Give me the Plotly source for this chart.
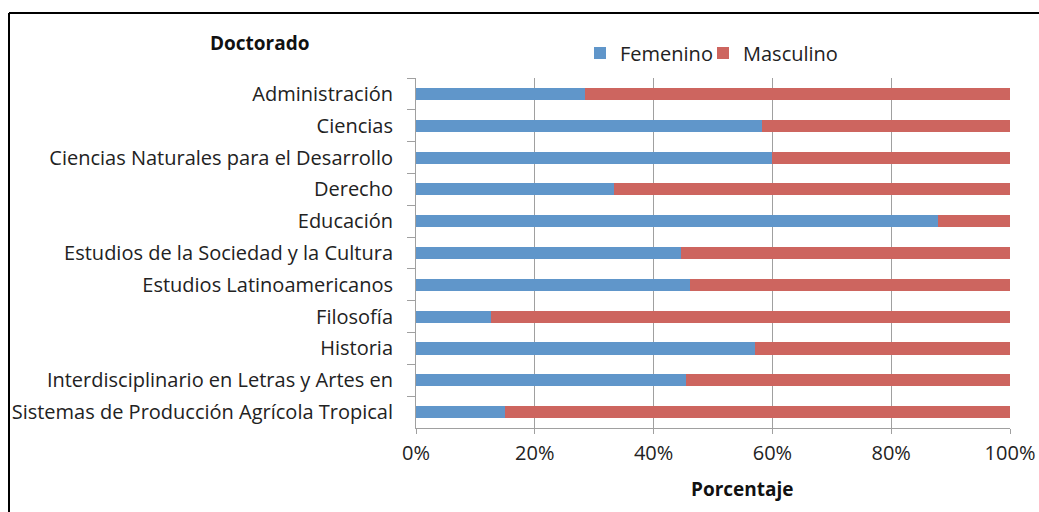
import plotly.graph_objects as go

categories = [
    "Administración",
    "Ciencias",
    "Ciencias Naturales para el Desarrollo",
    "Derecho",
    "Educación",
    "Estudios de la Sociedad y la Cultura",
    "Estudios Latinoamericanos",
    "Filosofía",
    "Historia",
    "Interdisciplinario en Letras y Artes en",
    "Sistemas de Producción Agrícola Tropical",
]
femenino = [28.5, 58.2, 59.9, 33.3, 87.9, 44.6, 46.1, 12.7, 57.1, 45.5, 15.0]
masculino = [100 - v for v in femenino]
x_ticks = [0, 20, 40, 60, 80, 100]
x_ticklabels = ["0%", "20%", "40%", "60%", "80%", "100%"]

FONT = "Open Sans"
FS = 20
W, H = 1039, 512
L, R, T, B = 416, 29, 78, 84
pw, ph = W - L - R, H - T - B

def px2x(px):
    return (px - L) / pw

def py2y(py):
    return (H - B - py) / ph

fig = go.Figure()
fig.add_trace(go.Bar(y=categories, x=femenino, name="Femenino", orientation="h",
                     marker=dict(color="#6096CA", line=dict(width=0)), legend="legend"))
fig.add_trace(go.Bar(y=categories, x=masculino, name="Masculino", orientation="h",
                     marker=dict(color="#CD655F", line=dict(width=0)), legend="legend2"))

legend_common = dict(orientation="h", yanchor="middle", xanchor="left",
                     font=dict(family=FONT, size=FS, color="#222222"),
                     itemwidth=30, bgcolor="rgba(0,0,0,0)")

fig.update_layout(
    barmode="stack",
    bargap=0.62,
    width=W, height=H,
    margin=dict(l=L, r=R, t=T, b=B, autoexpand=False),
    paper_bgcolor="white",
    plot_bgcolor="white",
    font=dict(family=FONT, size=FS, color="#222222"),
    legend=dict(x=px2x(580), y=py2y(53), **legend_common),
    legend2=dict(x=px2x(703), y=py2y(53), **legend_common),
    showlegend=True,
)
fig.update_xaxes(
    range=[0, 100], tickvals=x_ticks, ticktext=x_ticklabels,
    showgrid=True, gridcolor="#A0A0A0", gridwidth=1,
    showline=True, linecolor="#A0A0A0", linewidth=1,
    ticks="outside", ticklen=5, tickcolor="#A0A0A0",
    tickfont=dict(family=FONT, size=FS, color="#222222"),
    zeroline=False, fixedrange=True, ticklabelstandoff=2,
)
fig.update_yaxes(
    categoryorder="array", categoryarray=categories, autorange="reversed",
    showline=True, linecolor="#A0A0A0", linewidth=1,
    ticks="outside", ticklen=8, tickcolor="#A0A0A0", tickson="boundaries",
    tickfont=dict(family=FONT, size=FS, color="#222222"),
    showgrid=False, fixedrange=True, ticklabelstandoff=18,
)
fig.add_annotation(text="<b>Doctorado</b>", x=px2x(260), y=py2y(43), xref="paper", yref="paper",
                   xanchor="center", yanchor="middle",
                   showarrow=False, font=dict(family=FONT, size=19, color="#111111"))
fig.add_annotation(text="<b>Porcentaje</b>", x=px2x(742), y=py2y(489), xref="paper", yref="paper",
                   xanchor="center", yanchor="middle",
                   showarrow=False, font=dict(family=FONT, size=19, color="#111111"))
# chart frame
fig.add_shape(type="line", xref="paper", yref="paper", x0=px2x(9), x1=px2x(9), y0=py2y(520), y1=py2y(13),
              line=dict(color="black", width=2))
fig.add_shape(type="line", xref="paper", yref="paper", x0=px2x(9), x1=px2x(1050), y0=py2y(13), y1=py2y(13),
              line=dict(color="black", width=2))

fig.write_html("out.html", config={"displayModeBar": False},
               post_script="document.body.style.margin='0';")
